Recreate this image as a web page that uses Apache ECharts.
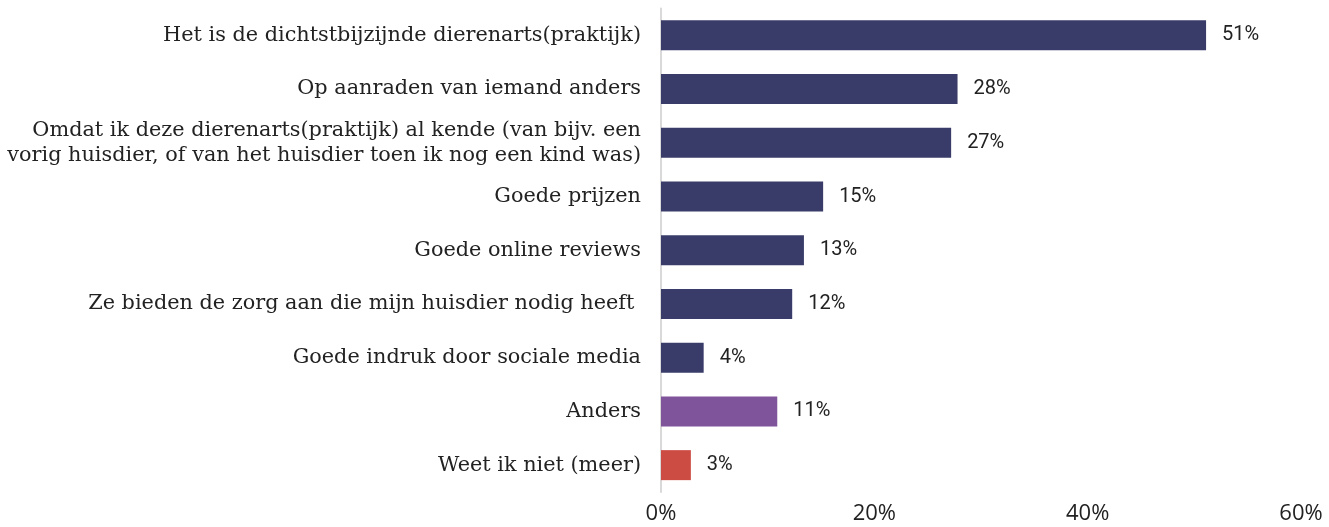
<!DOCTYPE html>
<html>
<head>
<meta charset="utf-8">
<script src="https://cdn.jsdelivr.net/npm/echarts@6/dist/echarts.min.js"></script>
<style>
html,body{margin:0;padding:0;background:#fff;}
#chart{width:1329px;height:527px;}
</style>
</head>
<body>
<div id="chart"></div>
<script>
const categories = [
  "Het is de dichtstbijzijnde dierenarts(praktijk)",
  "Op aanraden van iemand anders",
  "Omdat ik deze dierenarts(praktijk) al kende (van bijv. een\nvorig huisdier, of van het huisdier toen ik nog een kind was)",
  "Goede prijzen",
  "Goede online reviews",
  "Ze bieden de zorg aan die mijn huisdier nodig heeft ",
  "Goede indruk door sociale media",
  "Anders",
  "Weet ik niet (meer)"
];
const values = [51.1, 27.8, 27.2, 15.2, 13.4, 12.3, 4.0, 10.9, 2.8];
const xTicks = [0, 20, 40, 60];

const barColors = ["#393c68","#393c68","#393c68","#393c68","#393c68","#393c68","#393c68","#7f549b","#cc4b43"];

const chart = echarts.init(document.getElementById('chart'));
chart.setOption({
  animation: false,
  grid: { left: 661, right: 28, top: 8.5, bottom: 35, containLabel: false, outerBoundsMode: 'none' },
  xAxis: {
    type: 'value', min: xTicks[0], max: xTicks[xTicks.length-1], interval: 20,
    splitLine: { show: false }, axisLine: { show: false }, axisTick: { show: false },
    axisLabel: { formatter: '{value}%', fontFamily: 'Open Sans', fontSize: 22, color: '#222', margin: 11 }
  },
  yAxis: {
    type: 'category', data: categories, inverse: true,
    axisLine: { show: true, lineStyle: { color: '#d9d9d9', width: 2 } },
    axisTick: { show: false },
    axisLabel: { fontFamily: 'DejaVu Serif', fontSize: 20.8, color: '#222', margin: 20, lineHeight: 25, align: 'right' }
  },
  series: [{
    type: 'bar', data: values, barWidth: 30,
    itemStyle: { color: p => barColors[p.dataIndex] },
    label: { show: true, position: 'right', distance: 16, fontFamily: 'Roboto', fontSize: 20, color: '#222',
      formatter: p => Math.round(p.value) + '%' }
  }]
});
</script>
</body>
</html>
